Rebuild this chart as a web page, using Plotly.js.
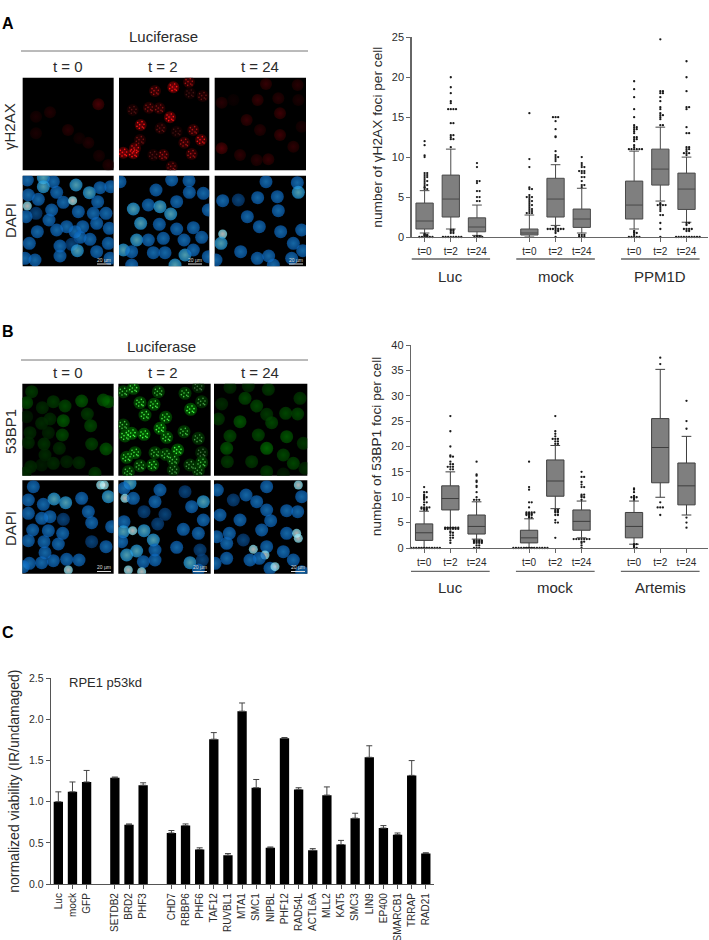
<!DOCTYPE html>
<html><head><meta charset="utf-8">
<script src="https://cdn.plot.ly/plotly-3.0.1.min.js"></script>
<style>html,body{margin:0;padding:0;background:#fff}</style></head>
<body><div id="chart" style="width:709px;height:940px"></div>
<script>
// ---------- Data ----------
const timeLabels = ['t=0','t=2','t=24','t=0','t=2','t=24','t=0','t=2','t=24'];
const boxPositions = [0,1,2,4,5,6,8,9,10];
const groupCentres = [1,5,9];
const groupsA = ['Luc','mock','PPM1D'];
const groupsB = ['Luc','mock','Artemis'];

const lowA = [0.5,1,0.2,0,1.45,0.5,1,4.5,1.85];
const q1A  = [1,2.5,0.65,0.25,2.5,1.2,2.25,6.5,3.45];
const medA = [2,4.75,1.25,0.5,4.75,2.25,4,8.5,6];
const q3A  = [4.25,7.75,2.4,1,7.35,3.5,7,11,8];
const highA= [5.8,11,4,2.75,9.05,6.1,10.75,13.75,10];
const outliersA = [
 [6,6,6.2,6.25,6.5,6.5,6.75,7,7,7.25,7.5,7.5,7.75,7.75,8,8,10,10.2,11.5,12,0,0,0,0,0,0,0.1,0.1,0.2,0.2,0.25,0.25,0.3,0.4],
 [11.25,12.25,12.25,12.5,12.75,12.75,14.25,14.25,16,16,16,16,16.75,17,18,18.75,20,0,0,0,0,0,0,0,0,0.5,0.5,0.75,0.75,0.9,0.9],
 [4.5,4.5,5,5,5.75,5.75,6.75,7,7,8.75,9.25,0,0,0,0,0.05,0.1,0.1],
 [3,3,3,3.25,3.25,3.5,3.5,3.75,4,4,4.25,4.5,4.5,4.75,5,5,5,5.25,6,6,6.2,8.75,9.75,15.5],
 [9.5,9.75,10,10,10.25,10.75,12.5,12.6,13.5,14.5,15,15,15,1,1,1,1,1,1,1,0.75,0.75,0.5,1.25,0],
 [6.25,6.5,6.5,7,7.5,7.5,8,8,8.25,8.25,8.25,8.75,8.75,9,9.25,10,0,0,0,0.25,0.25,0.25],
 [11,11,11,11,11,11,11.25,11.5,12,12.25,12.25,12.5,12.5,13,13.25,13.5,13.5,13.75,13.75,14,15,16,17.5,18.5,19.5,0,0,0,0,0,0.25,0.5,0.5,0.6,0.75],
 [14,14,14.75,15,15.25,15.25,15.5,16,16.25,17,17.5,18,18,18.25,18.25,24.75,4,4,4,4,4.1,3.5,3.25,2.75,2.75,1.75,1,0,4.25,3.75],
 [10.25,10.5,10.5,10.5,10.75,11,11,11.25,11.25,13,13,13.75,16,16.25,16.25,18.25,20,22,0,0,0,0,0,0,0,0,0,0,0.75,0.75,1,1,1,1,1.5,1.75,1.75]
];

const lowB = [0,4,1.75,0.1,7.75,2,0.75,10,6.5];
const q1B  = [1.5,7.5,2.75,1,10.2,3.5,2,12.85,8.5];
const medB = [3,9.75,4.25,2,13.2,5.25,4.25,19.8,12.25];
const q3B  = [4.75,12.25,6.5,3.5,17.35,7.5,7,25.5,16.75];
const highB= [7.25,15,9.1,5.75,20.2,9.25,9.25,35.2,22];
const outliersB = [
 [7.5,7.5,7.75,7.75,7.75,8,8,8,8,8.5,9,9,9.5,9.75,10,10,10.25,10.5,11,11,12,0,0,0,0,0,0,0,0,0,0,0,0],
 [15.5,15.5,16,16,16,16.5,16.5,17,18,18,18.25,20,23,26,3.75,3.75,3.75,3.75,3.75,3.75,4,4,4,4,4,4,3.25,3,3,2.5,2.5,2,2,1.5,1],
 [9.5,9.5,9.5,10,11,12,12.25,13,13.25,14.25,14.5,17,1.5,1.5,1.5,1.5,1.25,1.25,1.25,1.25,1,1,1,1,0.5,0.5,0,0,0],
 [6,6,6.25,6.5,6.5,6.5,6.75,6.75,6.75,7,7,7,7,8,9,9,11.5,12,17,0,0,0,0,0,0,0,0,0,0,0,0,0,0],
 [20.5,20.5,21,21,21.5,21.5,21.5,22,22.5,23,26,7.5,7.5,7.25,7.25,7,7,6.5,6.5,5,5,5.5,2],
 [9.5,10,10,10.25,10.5,10.5,12,12,12.5,13,14,14,15,1.75,1.75,1.75,1.75,1.75,1.75,1.75,1.25,1.25,1,0.5,0],
 [9.5,9.75,10,10,10,10.25,11,11.5,11.75,0,0,0.25,0.5,0.75,0.75],
 [36.25,37.5,9,8,8,8,6.5],
 [23.5,25,29,6,5,4]
];

const barCategories = ['Luc','mock','GFP',' ','SETDB2','BRD2','PHF3','  ','CHD7','RBBP6','PHF6','TAF12','RUVBL1','MTA1','SMC1','NIPBL','PHF12','RAD54L','ACTL6A','MLL2','KAT5','SMC3','LIN9','EP400','SMARCB1','TRRAP','RAD21'];
const barValues = [1,1.12,1.24,null,1.29,0.72,1.2,null,0.62,0.71,0.42,1.76,0.35,2.1,1.17,0.44,1.77,1.15,0.41,1.08,0.48,0.8,1.54,0.68,0.6,1.32,0.37];
const barErrors = [0.12,0.12,0.14,null,0.01,0.01,0.03,null,0.03,0.02,0.02,0.08,0.02,0.1,0.1,0.01,0.01,0.02,0.02,0.1,0.05,0.06,0.14,0.03,0.02,0.18,0.01];

// Microscopy panels: [x, y, brightness-or-class]
const cellsAred = [
 [[295,283,.55],[150,307,.25],[108,320,.2],[204,360,.3],[108,370,.2],[265,398,.25],[238,385,.15],[297,437,.2],[325,465,.25]],
 [[520,232,1],[567,216,.5],[465,243,.5],[608,258,.3],[570,250,.2],[398,300,.25],[447,293,.4],[478,295,.4],[510,322,.9],[422,345,.8],[482,355,.3],[530,365,.2],[580,360,.5],[420,390,.35],[553,398,.5],[603,390,.7],[405,415,.7],[370,428,.9],[400,430,.8],[490,435,.5],[575,432,.5],[460,435,.25],[515,470,.4]],
 [[798,222,.4],[893,225,.3],[665,278,.3],[773,270,.4],[835,265,.3],[895,270,.2],[840,310,.45],[740,330,.4],[780,360,.3],[840,375,.45],[665,415,.6],[720,435,.35],[770,450,.3],[805,448,.4],[880,410,.35],[700,270,.1],[905,350,.2]]
];
const cellsAdapi = [
 [[82,510],[130,503,'c'],[160,515],[130,530,'c'],[170,547],[85,555],[228,525,'c'],[268,548,'c'],[300,533],[332,530],[115,568],[190,577],[218,572,'w'],[293,575],[82,588,'w'],[155,600],[108,610,'d'],[78,620],[147,630],[235,605],[280,610],[318,610],[112,665],[170,660],[200,650],[225,665],[248,650],[290,640],[328,655],[240,682],[270,688],[180,708],[215,703,'d'],[325,700],[88,700],[180,738],[232,722,'c'],[290,725],[105,750],[330,745],[75,745]],
 [[360,515],[468,540],[515,510],[567,512],[568,547],[610,550],[530,575],[400,597,'c'],[445,585],[480,590,'c'],[512,612,'c'],[422,640,'c'],[478,643],[530,657],[580,653],[625,600],[410,690,'c'],[370,720,'c'],[445,690],[490,685],[552,690],[605,682],[395,725],[460,728],[495,728],[555,735,'c'],[580,720],[525,765,'c'],[395,765],[625,740]],
 [[798,515],[892,518],[895,547,'c'],[668,572],[715,570,'d'],[773,563],[832,560],[835,602],[742,620],[778,650],[842,665],[905,660],[668,672,'w'],[663,700,'c'],[722,725],[772,745],[806,738],[880,700],[908,722],[875,745],[648,750],[820,765]]
];
const cellsBgreen = [
 [[80,248,.5],[95,215,.4],[127,263,.3],[160,245,.4],[195,258,.5],[245,243,.6],[310,240,.6],[325,245,.6],[262,282,.4],[80,290,.2],[125,310,.3],[150,297,.3],[190,302,.6],[272,317,.5],[90,338,.3],[145,338,.25],[187,345,.5],[85,368,.3],[132,372,.35],[178,385,.3],[275,372,.45],[318,387,.6],[135,405,.3],[160,430,.3],[200,425,.25],[237,428,.3],[125,435,.2],[92,440,.3],[285,460,.4],[75,460,.3]],
 [[370,215,.5],[400,205,.6],[475,215,.5],[555,220,.5],[595,200,.3],[420,248,.6],[462,253,.6],[572,268,.7],[605,245,.4],[435,285,.6],[497,292,.6],[370,315,.5],[480,325,.7],[552,335,.5],[395,340,.7],[432,343,.7],[375,348,.6],[500,352,.6],[595,355,.4],[533,390,.7],[405,398,.6],[380,412,.6],[465,398,.5],[497,403,.5],[605,398,.3],[520,420,.5],[605,428,.5],[420,437,.5],[458,435,.6],[570,435,.4],[385,455,.5],[520,450,.4],[595,452,.4]],
 [[690,202,.3],[745,198,.3],[805,208,.4],[900,235,.4],[735,235,.5],[770,258,.5],[665,252,.3],[800,283,.4],[857,280,.5],[893,282,.5],[655,297,.4],[720,305,.6],[815,308,.5],[775,345,.5],[690,348,.5],[860,350,.6],[910,370,.4],[680,385,.6],[800,385,.7],[850,405,.5],[755,425,.4],[880,430,.5],[682,425,.4],[800,455,.4],[850,462,.2],[915,445,.3]]
];
const cellsBdapi = [
 [[100,500],[85,540],[130,553],[162,537,'c'],[197,548,'c'],[245,535],[302,495,'w'],[325,530,'c'],[85,580],[125,595],[150,590],[190,598,'d'],[265,575],[275,608],[335,620],[98,630],[145,632],[188,640],[85,662],[132,665],[175,672],[275,665,'d'],[318,680],[135,698],[88,730],[125,728],[160,722],[200,718],[237,720],[205,750,'w'],[70,740],[313,495,'w']],
 [[390,490,'c'],[372,505],[480,510],[375,535,'w'],[400,535],[465,545],[555,515,'d'],[575,560],[610,545,'c'],[432,575,'d'],[495,583,'d'],[372,605],[473,612,'d'],[610,600],[370,635,'c'],[398,632,'w'],[432,632,'c'],[550,628],[595,640],[365,665],[460,660,'c'],[410,693,'c'],[465,690],[530,682],[380,705,'c'],[600,690,'d'],[430,725],[465,720],[570,728,'c'],[607,720,'d'],[385,750,'w'],[425,755,'w'],[595,750]],
 [[652,510],[738,525],[800,500],[905,530],[895,495,'w'],[700,540,'d'],[770,545],[800,570],[860,572],[893,575],[660,585],[720,600],[812,602],[785,630],[860,640],[890,640,'w'],[688,640],[895,655,'w'],[680,670],[730,660,'d'],[800,680],[850,695],[680,715],[760,688,'w'],[795,705,'w'],[880,720],[750,720],[778,715],[810,745],[825,740,'w'],[905,755],[650,650],[645,730]]
];
// Speckle pattern seen inside nuclei with damage foci (offsets within a nucleus)
const fociPattern = [[-9,-7],[4,-10],[10,-2],[-3,-1],[-11,4],[5,6],[-4,10],[9,9]];

// ---------- Helpers ----------
const W=709,H=940, FONT='Liberation Sans, Arial, sans-serif', TXT='#2b2b2b';
const px=x=>x/W, py=y=>1-y/H;

function swarm(vals){
  const seen={}, xs=[];
  vals.forEach(v=>{const k=String(v);const n=seen[k]=(seen[k]||0)+1;
    xs.push(n===1?0:(n%2?-1:1)*Math.floor(n/2)*0.1);});
  return xs;
}
function boxTraces(xa,ya,lo,q1,med,q3,hi,outs,lineCol){
  const ox=[],oy=[];
  outs.forEach((arr,i)=>{const off=swarm(arr);arr.forEach((v,j)=>{ox.push(boxPositions[i]+off[j]);oy.push(v);});});
  return [{type:'box',xaxis:xa,yaxis:ya,x:boxPositions,lowerfence:lo,q1:q1,median:med,q3:q3,upperfence:hi,
    width:0.66,whiskerwidth:0.56,boxpoints:false,fillcolor:'#7f7f7f',line:{color:lineCol,width:1},hoverinfo:'skip',showlegend:false},
   {type:'scatter',mode:'markers',xaxis:xa,yaxis:ya,x:ox,y:oy,cliponaxis:false,
    marker:{size:2.3,color:'#1a1a1a'},hoverinfo:'skip',showlegend:false}];
}
function xAx(x0,x1,yPx,lineCol){return {domain:[px(x0),px(x1)],range:[-0.5,10.82],tickvals:boxPositions,ticktext:timeLabels,
   tickangle:0,ticks:'outside',ticklen:4,tickcolor:lineCol,tickfont:{size:10,color:TXT,family:FONT},showgrid:false,zeroline:false,
   showline:true,linecolor:lineCol,linewidth:1.2,fixedrange:true,ticklabelstandoff:1};}
function yAx(y0,y1,rng,dt,title,lineCol){return {domain:[py(y0),py(y1)],range:rng,dtick:dt,ticks:'outside',ticklen:4,tickcolor:lineCol,
   tickfont:{size:11,color:TXT,family:FONT},showgrid:false,zeroline:false,showline:true,linecolor:lineCol,linewidth:1.2,fixedrange:true,
   title:{text:title,font:{size:13.7,color:TXT,family:FONT},standoff:6}};}

const ann=[],shapes=[];
const txt=(x,y,t,size,o={})=>ann.push(Object.assign({x:px(x),y:py(y),xref:'paper',yref:'paper',text:t,showarrow:false,
   font:{size:size,color:TXT,family:FONT},xanchor:'center',yanchor:'middle'},o));
const line=(x0,y0,x1,y1,col,w)=>shapes.push({type:'line',xref:'paper',yref:'paper',x0:px(x0),x1:px(x1),y0:py(y0),y1:py(y1),line:{color:col,width:w}});

// ---------- Charts ----------
const data=[
  ...boxTraces('x','y',lowA,q1A,medA,q3A,highA,outliersA,'#4a4a4a'),
  ...boxTraces('x2','y2',lowB,q1B,medB,q3B,highB,outliersB,'#3e3e3e'),
  {type:'bar',xaxis:'x3',yaxis:'y3',x:barCategories,y:barValues,width:0.66,marker:{color:'#000'},
   error_y:{type:'data',symmetric:false,array:barErrors,arrayminus:barErrors.map(()=>0),color:'#444',thickness:1,width:3},
   hoverinfo:'skip',showlegend:false}
];
const layout={width:W,height:H,margin:{l:0,r:0,t:0,b:0},paper_bgcolor:'#fff',plot_bgcolor:'rgba(0,0,0,0)',showlegend:false,
  xaxis:xAx(411.5,708,237,'#666'),yaxis:yAx(237,37.3,[0,25],5,'number of γH2AX foci per cell','#666'),
  xaxis2:Object.assign(xAx(411,708,548,'#666'),{anchor:'y2'}),yaxis2:Object.assign(yAx(548,345,[0,40],5,'number of 53BP1 foci per cell','#666'),{anchor:'x2'}),
  xaxis3:{anchor:'y3',domain:[px(50.7),px(434.3)],type:'category',categoryorder:'array',categoryarray:barCategories,range:[-0.54,26.6],
    tickmode:'array',tickvals:barCategories.filter(c=>c.trim()),ticktext:barCategories.filter(c=>c.trim()),
    tickangle:-90,ticks:'outside',ticklen:4,tickcolor:'#555',tickfont:{size:10,color:TXT,family:FONT},showgrid:false,zeroline:false,showline:true,linecolor:'#555',linewidth:1.1,fixedrange:true},
  yaxis3:{anchor:'x3',domain:[py(884),py(678.3)],range:[0,2.5],dtick:0.5,tickformat:'.1f',ticks:'outside',ticklen:4,tickcolor:'#555',
    tickfont:{size:10.5,color:TXT,family:FONT},showgrid:false,zeroline:false,showline:true,linecolor:'#555',linewidth:1.1,fixedrange:true,
    title:{text:'normalized viability (IR/undamaged)',font:{size:14,color:TXT,family:FONT},standoff:6}},
  annotations:ann,shapes:shapes
};
// Group labels and rules under the box plots
[[groupsA,'x','#8a8a8a',1.8,259,276],[groupsB,'x2','#444',1,571.3,587]].forEach(([names,xa,col,w,ly,ty])=>{
  names.forEach((n,i)=>{
    shapes.push({type:'line',xref:xa,yref:'paper',x0:groupCentres[i]-1.5,x1:groupCentres[i]+1.5,y0:py(ly),y1:py(ly),line:{color:col,width:w}});
    ann.push({x:groupCentres[i],xref:xa,y:py(ty),yref:'paper',text:n,showarrow:false,font:{size:15,color:TXT,family:FONT},xanchor:'center',yanchor:'middle'});
  });
});

// ---------- Microscopy panels ----------
const dapiStyles={c:['#1c98de','#72def6',13],w:['#7fe9fb','#ffffff',9],d:['#053c78','#0d62ac',13]};
const dapiDefault=['#0a62b8','#1f93ea',13];
let axisN=4;
function addPanel(x0,x1,y0,y1,off,cells,kind,foci){
  const n=axisN++, ids=['x'+n,'y'+n];
  const dom={x:[px(x0/3),px(x1/3)],y:[py(y1/3+off),py(y0/3+off)]};
  layout['xaxis'+n]={domain:dom.x,range:[x0,x1],visible:false,anchor:'y'+n,fixedrange:true};
  layout['yaxis'+n]={domain:dom.y,range:[y1,y0],visible:false,anchor:'x'+n,fixedrange:true};
  shapes.push({type:'rect',xref:'paper',yref:'paper',x0:dom.x[0],x1:dom.x[1],y0:dom.y[0],y1:dom.y[1],fillcolor:'#000',line:{width:0},layer:'below'});
  const outer=[],centre=[],sizes=[];
  cells.forEach(c=>{
    if(kind==='red'){outer.push(`rgb(${Math.round(c[2]*95)},0,0)`);centre.push(`rgb(${Math.round(c[2]*190)},0,${Math.round(c[2]*15)})`);sizes.push(12);}
    else if(kind==='green'){outer.push(`rgb(0,${Math.round(c[2]*130)},0)`);centre.push(`rgb(0,${Math.round(c[2]*200)},0)`);sizes.push(13);}
    else{const s=dapiStyles[c[2]]||dapiDefault;outer.push(s[0]);centre.push(s[1]);sizes.push(s[2]);}
  });
  data.push({type:'scatter',mode:'markers',xaxis:ids[0],yaxis:ids[1],x:cells.map(c=>c[0]),y:cells.map(c=>c[1]),
    marker:{size:sizes,color:outer,line:{width:0},gradient:{type:'radial',color:centre}},hoverinfo:'skip',showlegend:false});
  if(foci){
    const fx=[],fy=[],fc=[];
    cells.forEach(c=>{fociPattern.forEach(o=>{fx.push(c[0]+o[0]);fy.push(c[1]+o[1]);
      fc.push(kind==='red'?`rgb(${Math.min(255,Math.round(c[2]*330))},20,20)`:`rgb(70,${Math.min(255,Math.round(c[2]*380))},70)`);});});
    data.push({type:'scatter',mode:'markers',xaxis:ids[0],yaxis:ids[1],x:fx,y:fy,
      marker:{size:1.6,color:fc,line:{width:0}},hoverinfo:'skip',showlegend:false});
  }
}
const colsA=[[68,341],[357,628],[644,918]], colsB=[[67,341],[355,632],[642,922]];
colsA.forEach((c,i)=>addPanel(c[0],c[1],203,481,10,cellsAred[i],'red',i===1));
colsA.forEach((c,i)=>addPanel(c[0],c[1],497,769,10,cellsAdapi[i],'dapi',false));
colsB.forEach((c,i)=>addPanel(c[0],c[1],191,467,320,cellsBgreen[i],'green',i===1));
colsB.forEach((c,i)=>addPanel(c[0],c[1],481,761,320,cellsBdapi[i],'dapi',false));

// Scale bars
[[104,260,264],[195,260,264],[296,260,264],[104,566.7,571.5],[200,566.7,571.5],[298,566.7,571.5]].forEach(([x,ty,ly])=>{
  line(x-7,ly,x+7,ly,'#ddd',1);
  txt(x,ty,'20 µm',5,{font:{size:5,color:'#ddd',family:FONT}});
});

// Panel text
txt(8,23,'<b>A</b>',16,{font:{size:16,color:'#000',family:FONT}});
txt(8,332,'<b>B</b>',16,{font:{size:16,color:'#000',family:FONT}});
txt(8,632,'<b>C</b>',16,{font:{size:16,color:'#000',family:FONT}});
txt(163,37,'Luciferase',15); line(21,51,308,51,'#777',1);
txt(161,347,'Luciferase',15); line(21,360,308,360,'#777',1);
[[68,'t = 0'],[163,'t = 2'],[260,'t = 24']].forEach(([x,t])=>{txt(x,66.7,t,15);txt(x,372.7,t,15);});
txt(10,127,'γH2AX',15,{textangle:-90});
txt(10,221,'DAPI',15,{textangle:-90});
txt(10,432,'53BP1',15,{textangle:-90});
txt(10,529,'DAPI',15,{textangle:-90});
txt(66.7,682.7,'RPE1 p53kd',13,{xanchor:'left'});

Plotly.newPlot('chart',data,layout,{staticPlot:true,displayModeBar:false});
</script></body></html>
